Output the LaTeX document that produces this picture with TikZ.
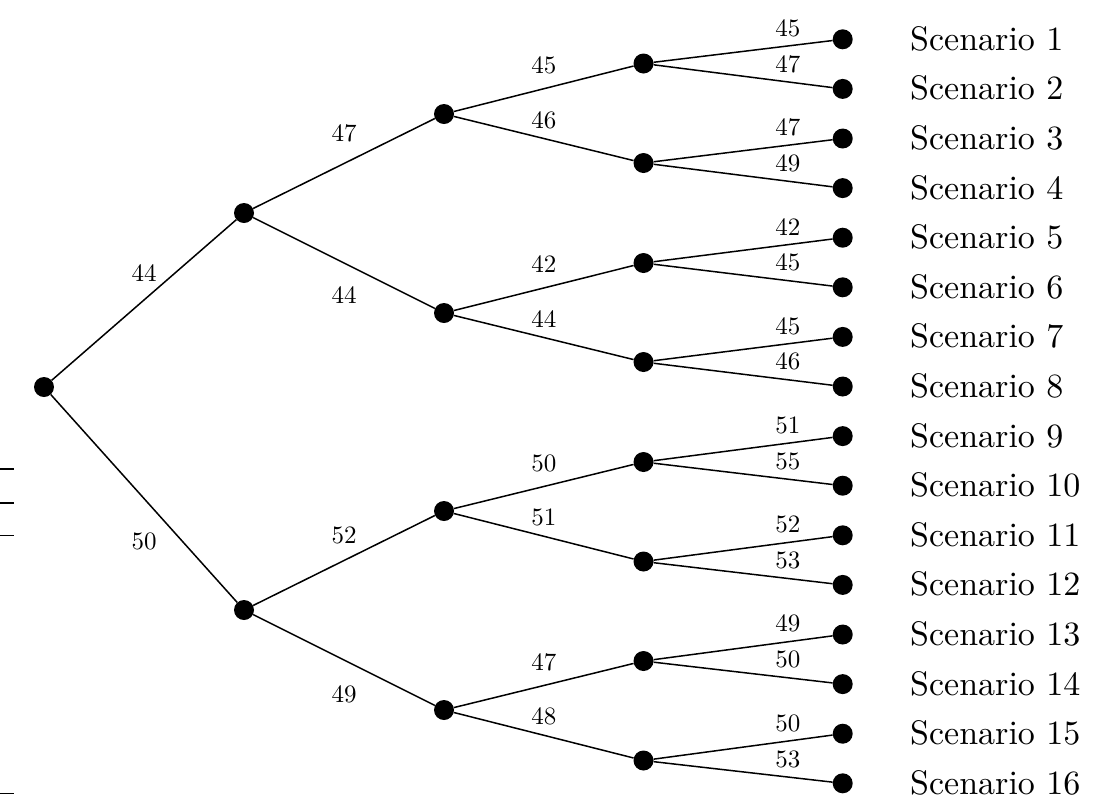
\documentclass[tikz,border=0pt]{standalone}
\usepackage{graphicx}
\newcommand{\edgelab}[1]{\scalebox{2.5}{\fontsize{10}{12}\selectfont #1}}
\newcommand{\scenlab}[1]{\scalebox{3.4}{\fontsize{10}{12}\selectfont #1}}
\begin{document}
\begin{tikzpicture}[x=1pt,y=-1pt,
  dot/.style={circle,fill=black,inner sep=0pt,minimum size=20pt},
  edge/.style={line width=1.5pt,black},
  lbl/.style={inner sep=0pt,text=black},
  scen/.style={anchor=base west,inner sep=0pt,text=black},
  tick/.style={line width=1.8pt}]
\useasboundingbox (0,0) rectangle (1101,807);
% nodes
\node[dot] (r) at (44,387) {};
\node[dot] (a) at (244,213) {};
\node[dot] (b) at (244,610) {};
\node[dot] (aa) at (444,114) {};
\node[dot] (ab) at (444,313) {};
\node[dot] (ba) at (444,511) {};
\node[dot] (bb) at (444,710) {};
\foreach \n/\y in {1/63.5,2/163,3/263,4/362,5/462,6/561.5,7/661,8/760.5}
  \node[dot] (m\n) at (643.5,\y) {};
\foreach \k in {1,...,16}{
  \pgfmathsetmacro{\yy}{39.3+49.6*(\k-1)}
  \node[dot] (l\k) at (842.7,\yy) {};
  \node[scen] (s\k) at (910,\yy+11) {\scenlab{Scenario \k}};
}
% root edges
\draw[edge] (r) -- node[lbl,midway,yshift=27pt] {\edgelab{44}} (a);
\draw[edge] (r) -- node[lbl,midway,yshift=-43pt] {\edgelab{50}} (b);
% level 1 edges
\draw[edge] (a) -- node[lbl,midway,yshift=30pt] {\edgelab{47}} (aa);
\draw[edge] (a) -- node[lbl,midway,yshift=-32pt] {\edgelab{44}} (ab);
\draw[edge] (b) -- node[lbl,midway,yshift=25pt] {\edgelab{52}} (ba);
\draw[edge] (b) -- node[lbl,midway,yshift=-34pt] {\edgelab{49}} (bb);
% level 2 edges
\draw[edge] (aa) -- node[lbl,midway,yshift=23.5pt] {\edgelab{45}} (m1);
\draw[edge] (aa) -- node[lbl,midway,yshift=18.5pt] {\edgelab{46}} (m2);
\draw[edge] (ab) -- node[lbl,midway,yshift=23.5pt] {\edgelab{42}} (m3);
\draw[edge] (ab) -- node[lbl,midway,yshift=18.5pt] {\edgelab{44}} (m4);
\draw[edge] (ba) -- node[lbl,midway,yshift=23.5pt] {\edgelab{50}} (m5);
\draw[edge] (ba) -- node[lbl,midway,yshift=18.5pt] {\edgelab{51}} (m6);
\draw[edge] (bb) -- node[lbl,midway,yshift=23.5pt] {\edgelab{47}} (m7);
\draw[edge] (bb) -- node[lbl,midway,yshift=18.5pt] {\edgelab{48}} (m8);
% level 3 edges
\foreach \m/\la/\lbb/\va/\vb in {1/1/2/45/47,2/3/4/47/49,3/5/6/42/45,4/7/8/45/46,5/9/10/51/55,6/11/12/52/53,7/13/14/49/50,8/15/16/50/53}{
  \draw[edge] (m\m) -- node[lbl,pos=0.75,yshift=18pt] {\edgelab{\va}} (l\la);
  \draw[edge] (m\m) -- node[lbl,pos=0.75,yshift=18pt] {\edgelab{\vb}} (l\lbb);
}
% small marks at left edge
\coordinate (t1a) at (0,469); \coordinate (t1b) at (14,469);
\coordinate (t2a) at (0,503); \coordinate (t2b) at (14,503);
\coordinate (t3a) at (0,535.5); \coordinate (t3b) at (14,535.5);
\coordinate (t4a) at (0,793.5); \coordinate (t4b) at (14,793.5);
\draw[tick] (t1a) -- (t1b);
\draw[tick] (t2a) -- (t2b);
\draw[tick] (t3a) -- (t3b);
\draw[tick] (t4a) -- (t4b);
\end{tikzpicture}
\end{document}
